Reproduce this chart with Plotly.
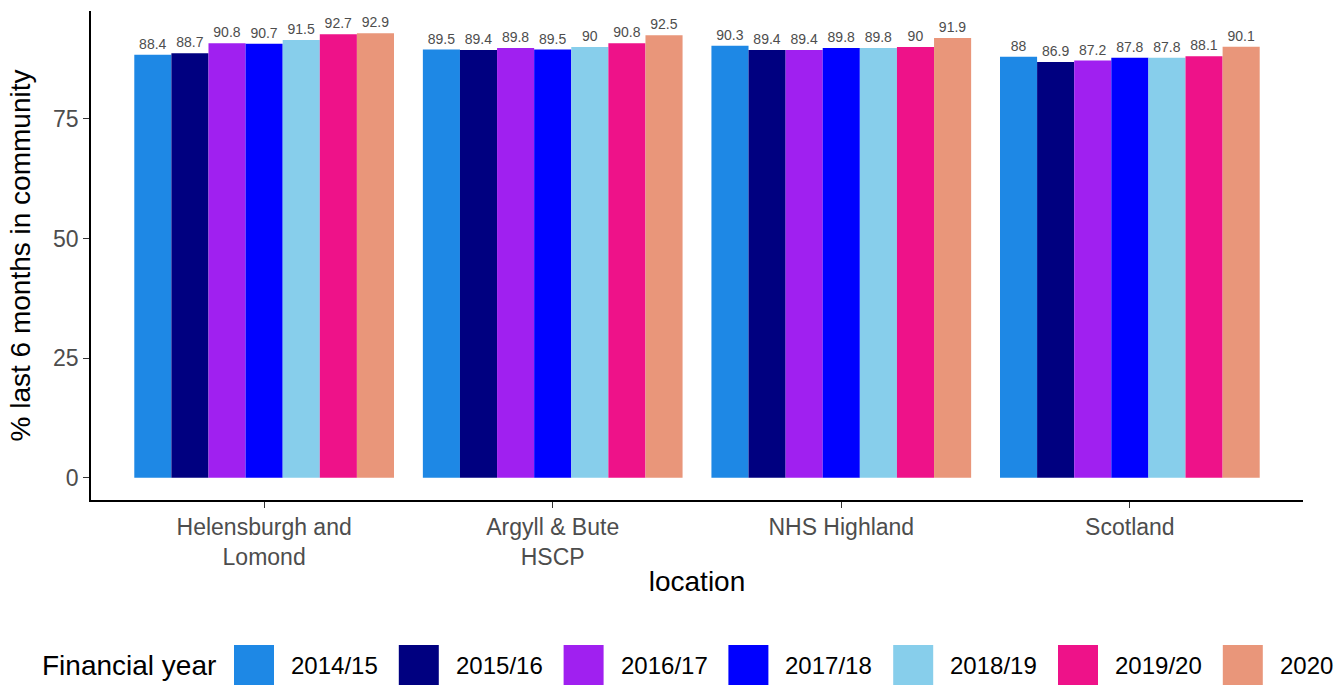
import plotly.graph_objects as go

locations = ["Helensburgh and<br>Lomond", "Argyll & Bute<br>HSCP", "NHS Highland", "Scotland"]
years = ["2014/15", "2015/16", "2016/17", "2017/18", "2018/19", "2019/20", "2020"]
values = {
    "2014/15": [88.4, 89.5, 90.3, 88.0],
    "2015/16": [88.7, 89.4, 89.4, 86.9],
    "2016/17": [90.8, 89.8, 89.4, 87.2],
    "2017/18": [90.7, 89.5, 89.8, 87.8],
    "2018/19": [91.5, 90.0, 89.8, 87.8],
    "2019/20": [92.7, 90.8, 90.0, 88.1],
    "2020":    [92.9, 92.5, 91.9, 90.1],
}
colors = ["#1E88E5", "#000080", "#A020F0", "#0000FF", "#87CEEB", "#EE1289", "#E9967A"]

W, H = 1335, 687
# plot area in page pixels: x 91..1303, y 11..500
PX0, PX1, PY0, PY1 = 91, 1303, 11, 500
L, T = PX0, PY0
R, B = W - PX1, H - PY1

FONT = "Liberation Sans"

fig = go.Figure()
for yr, col in zip(years, colors):
    vals = values[yr]
    fig.add_trace(go.Bar(
        x=locations, y=vals, name=yr, marker=dict(color=col, line=dict(width=0)),
        text=[f"{v:g}" for v in vals], textposition="outside", cliponaxis=False,
        textfont=dict(size=14, color="#4d4d4d", family=FONT),
        showlegend=False,
    ))

allv = [v for yr in years for v in values[yr]]
ymax = max(allv)

fig.update_layout(
    width=W, height=H,
    margin=dict(l=L, r=R, t=T, b=B, autoexpand=False),
    barmode="group", bargap=0.1, bargroupgap=0,
    plot_bgcolor="white", paper_bgcolor="white",
    font=dict(family=FONT, color="#000000"),
    uniformtext=dict(minsize=14, mode="show"),
)
fig.update_xaxes(
    range=[-0.6, 3.6], showline=True, linecolor="black", linewidth=1.5,
    ticks="outside", ticklen=6, tickcolor="#333333", tickwidth=1.2,
    tickfont=dict(size=23, color="#4d4d4d", family=FONT),
    title=dict(text="location", font=dict(size=28, color="black"), standoff=2),
    showgrid=False, zeroline=False,
)
fig.update_yaxes(
    range=[-0.05 * ymax, 1.05 * ymax], tickvals=[0, 25, 50, 75],
    showline=True, linecolor="black", linewidth=1.5,
    ticks="outside", ticklen=6, tickcolor="#333333", tickwidth=1.2,
    tickfont=dict(size=23, color="#4d4d4d", family=FONT),
    title=dict(text="% last 6 months in community", font=dict(size=28, color="black"), standoff=14),
    showgrid=False, zeroline=False,
)

def px_x(p):
    return (p - PX0) / (PX1 - PX0)

def px_y(p):
    return (PY1 - p) / (PY1 - PY0)

# custom legend (ggplot style)
leg_cy = 665
key = 40
fig.add_annotation(x=px_x(40), y=px_y(leg_cy), xref="paper", yref="paper",
                   text="Financial year", showarrow=False, xanchor="left", yanchor="middle",
                   font=dict(size=28, color="black"))
start = 234
step = 164.8
for i, (yr, col) in enumerate(zip(years, colors)):
    x0 = start + i * step
    fig.add_shape(type="rect", xref="paper", yref="paper",
                  x0=px_x(x0), x1=px_x(x0 + key),
                  y0=px_y(leg_cy + key / 2), y1=px_y(leg_cy - key / 2),
                  fillcolor=col, line=dict(width=0))
    fig.add_annotation(x=px_x(x0 + key + 15), y=px_y(leg_cy), xref="paper", yref="paper",
                       text=yr, showarrow=False, xanchor="left", yanchor="middle",
                       font=dict(size=24, color="black"))

fig.write_html("out.html", config={"displayModeBar": False},
               post_script="document.body.style.margin='0';document.body.style.overflow='hidden';")
